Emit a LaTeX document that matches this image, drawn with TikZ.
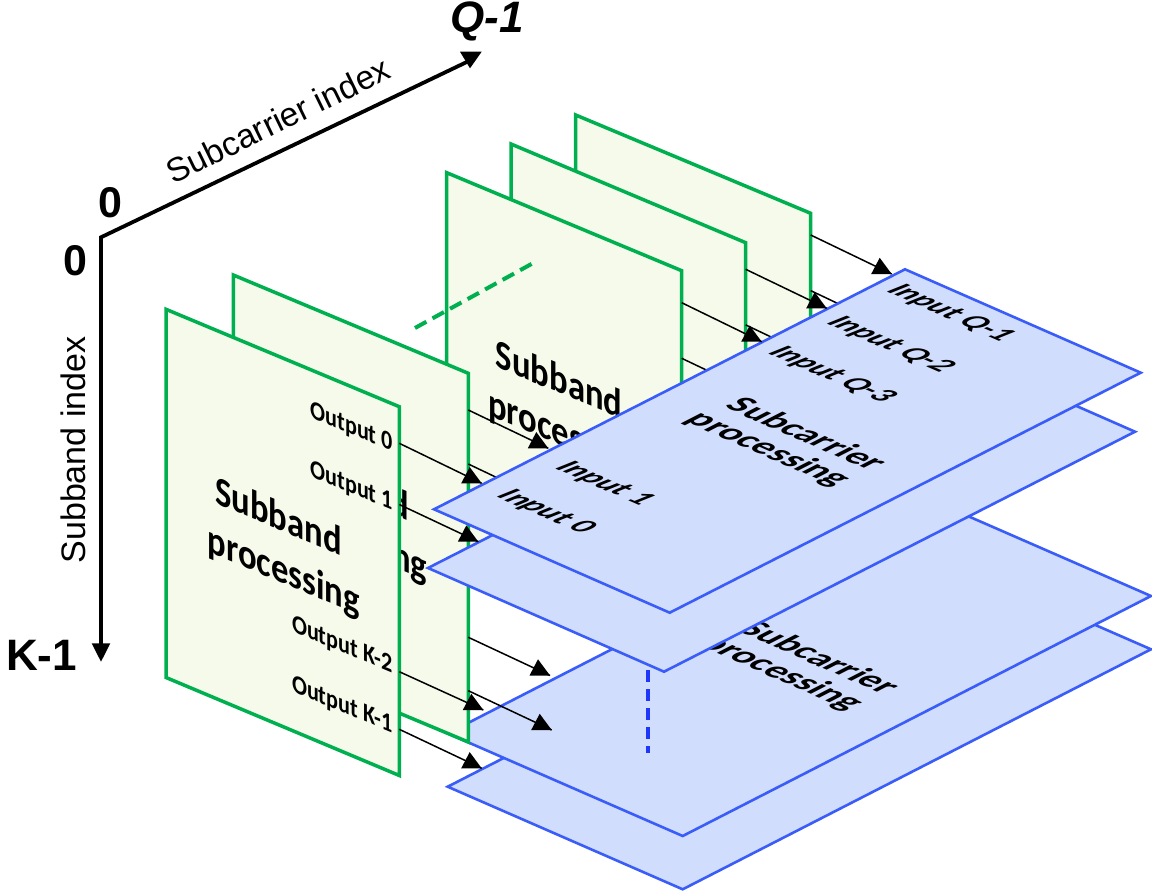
\documentclass[tikz,border=0pt]{standalone}
\usepackage{fontspec}
\setmainfont{Carlito}
\newfontfamily\arialf{Liberation Sans}
\definecolor{gline}{RGB}{0,176,80}
\definecolor{gfill}{RGB}{245,250,234}
\definecolor{bline}{RGB}{58,92,248}
\definecolor{bfill}{RGB}{208,221,252}
\definecolor{bdash}{RGB}{30,55,250}
\tikzset{
  gpanel/.style={draw=gline, fill=gfill, line width=3.5pt, line join=miter},
  bplane/.style={draw=bline, fill=bfill, line width=2.6pt, line join=miter},
  conn/.style={line width=1.5pt, draw=black},
  axisline/.style={line width=3.8pt, line join=miter},
}
\newcommand\fbig{\bfseries\fontsize{37.5}{45}\selectfont}
\newcommand\fout{\bfseries\fontsize{24}{28}\selectfont}
\newcommand\finp{\bfseries\itshape\fontsize{32}{36}\selectfont}
% text in a vertical (green) panel plane
\newcommand\gtxt[5]{%
  \begin{scope}[shift={#1},cm={0.923,-0.386,0,1.10,(0,0)}]
    \node[transform shape,inner sep=0pt,anchor=#2,font=#3] (#4) at (0,0) {#5};
  \end{scope}}
% text in a horizontal (blue) plane
\newcommand\btxt[5]{%
  \begin{scope}[shift={#1},cm={0.917,-0.4,0.846,0.433,(0,0)}]
    \node[transform shape,inner sep=0pt,anchor=#2,font=#3] (#4) at (0,0) {#5};
  \end{scope}}
\newcommand\myhead[1]{\fill[black] (#1) -- ++(-20.5,0) -- ++(8.5,-16.2) -- cycle;}
\newcommand\myarrow[2]{\draw[conn] (#1) -- (#2); \myhead{#2}}
\begin{document}
\begin{tikzpicture}[x=1pt,y=-1pt]
\fill[white] (0,0) rectangle (1152,894);
\useasboundingbox (0,0) rectangle (1152,894);

% ---------- lower subcarrier planes ----------
\draw[bplane] (447.7,786.7) -- (916,546.7) -- (1151,649.3) -- (682.7,889.3) -- cycle;
\draw[bplane] (447.7,733.4) -- (916,493.4) -- (1151,596) -- (682.7,836) -- cycle;
\btxt{(809.7,662.7)}{base}{\fbig}{c3a}{Subcarrier}
\btxt{(772.2,677.6)}{base}{\fbig}{c3b}{processing}

% ---------- back subband panels ----------
\draw[gpanel] (575.7,115) -- (810.7,213.3) -- (810.7,581.7) -- (575.7,483.5) -- cycle;
\draw[gpanel] (511,144) -- (745.7,242.7) -- (745.7,611) -- (511,512.5) -- cycle;
\draw[gpanel] (446.7,172.7) -- (681.7,270.7) -- (681.7,639.2) -- (446.7,541.2) -- cycle;
\gtxt{(559.1,392.9)}{base}{\fbig}{b1a}{Subband}
\gtxt{(564.4,446.8)}{base}{\fbig}{b1b}{processing}

% connector coordinates
\coordinate (a1o0s) at (399.3,443.3);  \coordinate (a1o0e) at (481.7,483.3);
\coordinate (a1o1s) at (399.3,504.5);  \coordinate (a1o1e) at (478.3,541.7);
\coordinate (a1k2s) at (399.3,671.7);  \coordinate (a1k2e) at (483.3,710);
\coordinate (a1k1s) at (399.3,729.3);  \coordinate (a1k1e) at (481.7,768.3);
\coordinate (a2o0s) at (468.3,410);    \coordinate (a2o0e) at (548.3,448.3);
\coordinate (a2o1s) at (468.3,464);    \coordinate (a2o1e) at (549.8,502.8);
\coordinate (a2k2s) at (468.3,637.3);  \coordinate (a2k2e) at (550,675.5);
\coordinate (a2k1s) at (468.3,690.7);  \coordinate (a2k1e) at (551.7,730);
\coordinate (b1o0s) at (681.7,302.7);  \coordinate (b1o0e) at (761.7,341.7);
\coordinate (b1o1s) at (681.7,358.3);  \coordinate (b1o1e) at (763.2,397.1);
\coordinate (b2o0s) at (745.7,269.3);  \coordinate (b2o0e) at (826.7,308.3);
\coordinate (b2o1s) at (745.7,324.9);  \coordinate (b2o1e) at (827.2,363.7);
\coordinate (b3o0s) at (810.7,235);    \coordinate (b3o0e) at (891.7,274);
\coordinate (b3o1s) at (810.7,290.6);  \coordinate (b3o1e) at (892.2,329.4);

% connectors that end under the top plane
\myarrow{b1o1s}{b1o1e}
\myarrow{b2o1s}{b2o1e}
\myarrow{b3o1s}{b3o1e}

% green dashed continuation
\draw[gline, line width=4pt, dash pattern=on 13pt off 7pt] (415,328) -- (532.7,263.3);

% ---------- front subband panels ----------
\draw[gpanel] (233.3,275) -- (468.3,373.3) -- (468.3,742) -- (233.3,643.7) -- cycle;
\gtxt{(345.7,495.2)}{base}{\fbig}{a2a}{Subband}
\gtxt{(351,549.1)}{base}{\fbig}{a2b}{processing}
\myarrow{a2o1s}{a2o1e}

\draw[gpanel] (166,309.3) -- (399.3,406.7) -- (399.3,775.5) -- (166,677.5) -- cycle;
\gtxt{(278.4,529.5)}{base}{\fbig}{a1a}{Subband}
\gtxt{(283.7,583.4)}{base}{\fbig}{a1b}{processing}
\gtxt{(393,451.5)}{base east}{\fout}{out0}{Output 0}
\gtxt{(393,510.7)}{base east}{\fout}{out1}{Output 1}
\gtxt{(393,673.3)}{base east}{\fout}{outk2}{Output K-2}
\gtxt{(393,733.3)}{base east}{\fout}{outk1}{Output K-1}

% ---------- upper subcarrier planes ----------
\draw[bplane] (428,568) -- (899,328) -- (1135,431.7) -- (664,671.7) -- cycle;
\draw[bplane] (434,509.3) -- (905,269.3) -- (1140.7,372.7) -- (669.7,612.7) -- cycle;
\btxt{(796.7,439)}{base}{\fbig}{c1a}{Subcarrier}
\btxt{(759.2,453.9)}{base}{\fbig}{c1b}{processing}
\btxt{(885.5,291.5)}{base west}{\finp}{inq1}{Input Q-1}
\btxt{(825.5,323.2)}{base west}{\finp}{inq2}{Input Q-2}
\btxt{(767,353.2)}{base west}{\finp}{inq3}{Input Q-3}
\btxt{(554,468.2)}{base west}{\finp}{in1}{Input 1}
\btxt{(495.5,496.5)}{base west}{\finp}{in0}{Input 0}

% blue dashed continuation
\draw[bdash, line width=4pt, dash pattern=on 12pt off 7pt] (648.3,670) -- (648.3,753);

% ---------- visible connectors ----------
\myarrow{a1o0s}{a1o0e}
\myarrow{a1o1s}{a1o1e}
\myarrow{a1k2s}{a1k2e}
\myarrow{a1k1s}{a1k1e}
\myarrow{a2o0s}{a2o0e}
\myarrow{a2k2s}{a2k2e}
\myarrow{a2k1s}{a2k1e}
\myarrow{b1o0s}{b1o0e}
\myarrow{b2o0s}{b2o0e}
\myarrow{b3o0s}{b3o0e}

% ---------- axes ----------
\coordinate (O) at (101,237.3);
\coordinate (Qend) at (472,59.5);
\coordinate (Qtip) at (481.7,51.7);
\coordinate (Kend) at (101,646);
\coordinate (Ktip) at (101,661.7);
\draw[axisline] (Qend) -- (O) -- (Kend);
\fill[black] (Qtip) -- (460,51.7) -- (470,68.3) -- cycle;
\fill[black] (Ktip) -- (91.7,643.3) -- (110.3,643.3) -- cycle;
\node[inner sep=0pt, font=\arialf\bfseries\itshape\fontsize{44}{44}\selectfont] (qlab) at (487,21.5) {Q-1};
\node[inner sep=0pt, font=\arialf\bfseries\fontsize{43}{43}\selectfont] (zt) at (110,202.5) {0};
\node[inner sep=0pt, font=\arialf\bfseries\fontsize{43}{43}\selectfont] (zl) at (75,260.5) {0};
\node[inner sep=0pt, font=\arialf\bfseries\fontsize{44}{44}\selectfont] (klab) at (41.5,655) {K-1};
\node[inner sep=0pt, font=\arialf\fontsize{33.5}{33.5}\selectfont, rotate=25.97] (sclab) at (278,120) {Subcarrier index};
\node[inner sep=0pt, font=\arialf\fontsize{34}{34}\selectfont, rotate=90] (sblab) at (73,450) {Subband index};
\end{tikzpicture}
\end{document}
